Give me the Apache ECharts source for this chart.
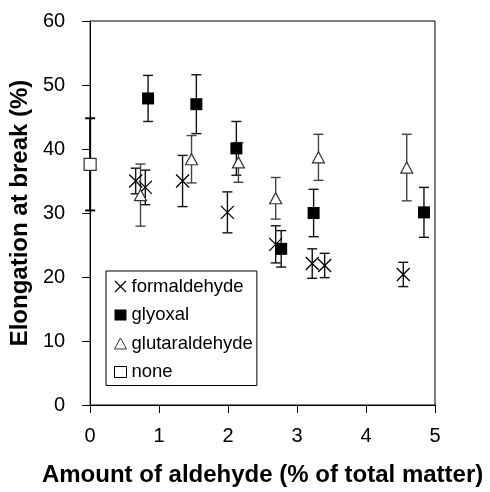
<!DOCTYPE html>
<html>
<head>
<meta charset="utf-8">
<script src="https://cdn.jsdelivr.net/npm/echarts@6/dist/echarts.min.js"></script>
<style>
  html, body { margin: 0; padding: 0; background: #fff; }
  #chart { width: 490px; height: 492px; }
</style>
</head>
<body>
<div id="chart"></div>
<script>
// Elongation at break vs. aldehyde content, mean ± error per sample
const formaldehydeX   = [0.66, 0.80, 1.34, 1.99, 2.69, 3.22, 3.40, 4.54];
const formaldehydeY   = [35.0, 34.0, 35.0, 30.1, 25.1, 22.1, 21.8, 20.4];
const formaldehydeErr = [2.0, 2.7, 4.0, 3.2, 2.9, 2.3, 1.9, 1.9];

const glyoxalX   = [0.84, 1.54, 2.12, 2.77, 3.24, 4.84];
const glyoxalY   = [47.9, 47.0, 40.1, 24.4, 30.0, 30.1];
const glyoxalErr = [3.6, 4.6, 4.2, 2.85, 3.7, 3.9];

const glutaraldehydeX   = [0.73, 1.47, 2.15, 2.69, 3.31, 4.59];
const glutaraldehydeY   = [32.8, 38.4, 37.9, 32.3, 38.7, 37.1];
const glutaraldehydeErr = [4.85, 3.7, 3.1, 3.25, 3.6, 5.2];

const noneX   = [0];
const noneY   = [37.6];
const noneErr = [7.2];

const xTicks = { min: 0, max: 5, step: 1 };
const yTicks = { min: 0, max: 60, step: 10 };

const FONT = '"Liberation Sans", Arial, Helvetica, sans-serif';
const X_PATH = 'path://M0,0L10,10M10,0L0,10';

function points(xs, ys) {
  return xs.map((x, i) => [x, ys[i]]);
}
function ranges(xs, ys, errs) {
  return xs.map((x, i) => [x, ys[i] - errs[i], ys[i] + errs[i]]);
}

function errorBars(name, xs, ys, errs, color, width, cap) {
  return {
    type: 'custom',
    name: name + ' error',
    data: ranges(xs, ys, errs),
    encode: { x: 0, y: [1, 2] },
    z: 2,
    silent: true,
    renderItem: function (params, api) {
      const x = api.value(0);
      const lo = api.coord([x, api.value(1)]);
      const hi = api.coord([x, api.value(2)]);
      const h = cap / 2;
      const style = { stroke: color, lineWidth: width, fill: null };
      return {
        type: 'group',
        children: [
          { type: 'line', shape: { x1: hi[0], y1: hi[1], x2: lo[0], y2: lo[1] }, style: style },
          { type: 'line', shape: { x1: hi[0] - h, y1: hi[1], x2: hi[0] + h, y2: hi[1] }, style: style },
          { type: 'line', shape: { x1: lo[0] - h, y1: lo[1], x2: lo[0] + h, y2: lo[1] }, style: style }
        ]
      };
    }
  };
}

const chart = echarts.init(document.getElementById('chart'), null, { renderer: 'canvas' });

chart.setOption({
  animation: false,
  backgroundColor: '#fff',
  textStyle: { fontFamily: FONT },
  grid: {
    left: 89, right: 55, top: 21, bottom: 85,
    show: true, borderColor: '#000', borderWidth: 1, backgroundColor: 'transparent'
  },
  xAxis: {
    type: 'value',
    min: xTicks.min, max: xTicks.max, interval: xTicks.step,
    name: 'Amount of aldehyde (% of total matter)',
    nameLocation: 'middle',
    nameGap: 58,
    nameTextStyle: { fontFamily: FONT, fontSize: 24, fontWeight: 'bold', color: '#000' },
    axisLine: { show: true, lineStyle: { color: '#000', width: 1 } },
    axisTick: { show: true, inside: false, length: 8, lineStyle: { color: '#000', width: 1 } },
    axisLabel: { fontFamily: FONT, fontSize: 20, color: '#000', margin: 21 },
    splitLine: { show: false }
  },
  yAxis: {
    type: 'value',
    min: yTicks.min, max: yTicks.max, interval: yTicks.step,
    name: 'Elongation at break (%)',
    nameLocation: 'middle',
    nameGap: 54,
    nameRotate: 90,
    nameTextStyle: { fontFamily: FONT, fontSize: 24, fontWeight: 'bold', color: '#000' },
    axisLine: { show: true, lineStyle: { color: '#000', width: 1 } },
    axisTick: { show: true, inside: false, length: 8, lineStyle: { color: '#000', width: 1 } },
    axisLabel: { fontFamily: FONT, fontSize: 20, color: '#000', margin: 25 },
    splitLine: { show: false }
  },
  legend: {
    orient: 'vertical',
    left: 106,
    top: 271,
    padding: [6, 4, 4, 8],
    itemGap: 9.5,
    itemWidth: 12,
    itemHeight: 11,
    borderColor: '#000',
    borderWidth: 1,
    backgroundColor: '#fff',
    textStyle: { fontFamily: FONT, fontSize: 18.5, color: '#000' },
    data: [
      { name: 'formaldehyde', icon: X_PATH,
        itemStyle: { color: 'rgba(0,0,0,0)', borderColor: '#000', borderWidth: 1.2 } },
      { name: 'glyoxal', icon: 'rect',
        itemStyle: { color: '#000', borderColor: '#000', borderWidth: 0 } },
      { name: 'glutaraldehyde', icon: 'triangle',
        itemStyle: { color: '#fff', borderColor: '#333', borderWidth: 1 } },
      { name: 'none', icon: 'rect',
        itemStyle: { color: '#fff', borderColor: '#000', borderWidth: 1 } }
    ]
  },
  series: [
    errorBars('formaldehyde', formaldehydeX, formaldehydeY, formaldehydeErr, '#111', 1.4, 10),
    errorBars('glyoxal', glyoxalX, glyoxalY, glyoxalErr, '#111', 1.4, 10),
    errorBars('glutaraldehyde', glutaraldehydeX, glutaraldehydeY, glutaraldehydeErr, '#444', 1.4, 10),
    errorBars('none', noneX, noneY, noneErr, '#000', 2, 10),
    {
      type: 'scatter', name: 'formaldehyde', z: 5,
      data: points(formaldehydeX, formaldehydeY),
      symbol: X_PATH, symbolSize: 13,
      itemStyle: { color: 'rgba(0,0,0,0)', borderColor: '#000', borderWidth: 1.3, opacity: 1 }
    },
    {
      type: 'scatter', name: 'glyoxal', z: 5,
      data: points(glyoxalX, glyoxalY),
      symbol: 'rect', symbolSize: 12,
      itemStyle: { color: '#000', opacity: 1 }
    },
    {
      type: 'scatter', name: 'glutaraldehyde', z: 5,
      data: points(glutaraldehydeX, glutaraldehydeY),
      symbol: 'triangle', symbolSize: [12, 11],
      itemStyle: { color: '#fff', borderColor: '#333', borderWidth: 1.2, opacity: 1 }
    },
    {
      type: 'scatter', name: 'none', z: 5,
      data: points(noneX, noneY),
      symbol: 'rect', symbolSize: 12,
      itemStyle: { color: '#fff', borderColor: '#333', borderWidth: 1.2, opacity: 1 }
    }
  ]
});
</script>
</body>
</html>
